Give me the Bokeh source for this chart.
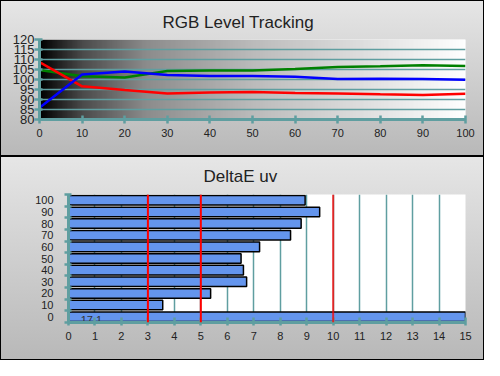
import numpy as np
from bokeh.plotting import figure
from bokeh.layouts import column
from bokeh.models import FixedTicker, Span, Range1d, AllLabels
from bokeh.embed import file_html
from bokeh.resources import INLINE
from bokeh.core.properties import value

# ---------------- data ----------------
levels = [0, 10, 20, 30, 40, 50, 60, 70, 80, 90, 100]
red = [108.7, 96.6, 94.7, 93.0, 93.5, 93.7, 93.2, 93.0, 92.6, 92.3, 92.9]
green = [104.7, 101.6, 101.0, 104.2, 104.5, 104.5, 105.3, 106.3, 106.6, 107.1, 106.8]
blue = [85.9, 102.5, 104.0, 102.3, 101.7, 101.7, 101.4, 100.2, 100.4, 100.2, 99.9]
y_ticks_top = [80, 85, 90, 95, 100, 105, 110, 115, 120]

de_cats = ["0", "10", "20", "30", "40", "50", "60", "70", "80", "90", "100"]
de_vals = [17.1, 3.56, 5.37, 6.73, 6.61, 6.52, 7.22, 8.39, 8.79, 9.49, 8.94]
de_ticks = list(range(0, 16))
thresholds = [3, 5, 10]

TEAL = "#5f9ea0"
FONT = "Liberation Sans"
TXT = "#222222"
PANEL_STYLE = {
    "background": "linear-gradient(to bottom, #e6e6e6, #b8b8b8)",
    "box-shadow": "inset 0 0 0 1px #000000",
}


def style_title(p, offset, standoff):
    p.title.align = "left"
    p.title.offset = offset
    p.title.standoff = standoff
    p.title.text_font = FONT
    p.title.text_font_size = "17px"
    p.title.text_font_style = "normal"
    p.title.text_color = TXT


def no_frame_align(p):
    if "frame_align" in p.properties():
        p.frame_align = False


# ---------------- top chart ----------------
p1 = figure(width=484, height=156, x_range=Range1d(0, 100), y_range=Range1d(80, 120),
            title="RGB Level Tracking",
            output_backend="svg", toolbar_location=None,
            min_border_left=39, min_border_right=19, min_border_top=39, min_border_bottom=37,
            styles=PANEL_STYLE)
no_frame_align(p1)
p1.border_fill_alpha = 0
p1.outline_line_color = None
style_title(p1, 123, 16)

xs = np.linspace(0, 100, 256)
g = np.interp(xs, [0, 10, 25, 50, 75, 100], [0, 75, 140, 187, 221, 255]).astype(np.uint8)
img = np.zeros((1, 256), dtype=np.uint32)
v = img.view(dtype=np.uint8).reshape((1, 256, 4))
v[..., 0] = g
v[..., 1] = g
v[..., 2] = g
v[..., 3] = 255
bg = p1.image_rgba(image=[img], x=0, y=80, dw=100, dh=40)
bg.level = "image"

p1.line(levels, green, line_color="#008000", line_width=2.5)
p1.line(levels, red, line_color="#ff0000", line_width=2.5)
p1.line(levels, blue, line_color="#0000ff", line_width=2.5)

p1.xgrid.visible = False
p1.ygrid.ticker = FixedTicker(ticks=y_ticks_top)
p1.ygrid.grid_line_color = TEAL
p1.ygrid.grid_line_width = 1.5

p1.xaxis.ticker = FixedTicker(ticks=levels)
p1.yaxis.ticker = FixedTicker(ticks=y_ticks_top)
for ax in (p1.xaxis[0], p1.yaxis[0]):
    ax.axis_line_color = TEAL
    ax.axis_line_width = 3
    ax.major_tick_line_color = TEAL
    ax.major_tick_line_width = 2.5
    ax.minor_tick_line_color = None
    ax.major_label_text_font = FONT
    ax.major_label_text_color = TXT
    ax.major_label_policy = AllLabels()
p1.xaxis.major_tick_in = 4
p1.xaxis.major_tick_out = 4
p1.xaxis.major_label_standoff = 5
p1.xaxis.major_label_text_font_size = "11px"
p1.yaxis.major_tick_in = 3
p1.yaxis.major_tick_out = 5
p1.yaxis.major_label_standoff = 0
p1.yaxis.major_label_text_font_size = "13px"

# ---------------- bottom chart ----------------
idx = list(range(len(de_cats)))
p2 = figure(width=484, height=204, x_range=Range1d(0, 15), y_range=Range1d(-0.5, 10.5),
            title="DeltaE uv",
            output_backend="svg", toolbar_location=None,
            min_border_left=68, min_border_right=19, min_border_top=38, min_border_bottom=38,
            styles=PANEL_STYLE)
no_frame_align(p2)
p2.border_fill_alpha = 0
p2.background_fill_color = "white"
p2.outline_line_color = None
style_title(p2, 135, 17)

p2.hbar(y=idx, left=0, right=de_vals, height=0.82, fill_color="#6495ed",
        line_color="black", line_width=1.5)
p2.text(x=[0.46], y=[0], text=[f"{de_vals[0]}"], text_baseline="middle", y_offset=3,
        text_font=value(FONT), text_font_size="11px", text_color="#333333")

for t in thresholds:
    p2.add_layout(Span(location=t, dimension="height", line_color="#ff0000",
                       line_width=2, line_alpha=0.75 if t == 10 else 1.0))

p2.ygrid.visible = False
p2.xgrid.ticker = FixedTicker(ticks=de_ticks)
p2.xgrid.grid_line_color = TEAL
p2.xgrid.grid_line_width = 1.5

p2.xaxis.ticker = FixedTicker(ticks=de_ticks)
p2.yaxis.ticker = FixedTicker(ticks=idx, minor_ticks=[i - 0.5 for i in range(len(idx) + 1)])
p2.yaxis.major_label_overrides = {i: c for i, c in zip(idx, de_cats)}
for ax in (p2.xaxis[0], p2.yaxis[0]):
    ax.axis_line_color = TEAL
    ax.axis_line_width = 3
    ax.major_tick_line_color = TEAL
    ax.major_tick_line_width = 2.5
    ax.major_label_text_font = FONT
    ax.major_label_text_font_size = "11px"
    ax.major_label_text_color = TXT
    ax.major_label_policy = AllLabels()
p2.xaxis.minor_tick_line_color = None
p2.xaxis.major_tick_in = 5
p2.xaxis.major_tick_out = 3
p2.xaxis.major_label_standoff = 6
p2.yaxis.major_tick_in = 0
p2.yaxis.major_tick_out = 0
p2.yaxis.minor_tick_in = 3
p2.yaxis.minor_tick_out = 4
p2.yaxis.minor_tick_line_color = TEAL
p2.yaxis.minor_tick_line_width = 2.5
p2.yaxis.major_label_standoff = 11

layout = column(p1, p2, spacing=0)
open("out.html", "w").write(file_html(layout, INLINE))
